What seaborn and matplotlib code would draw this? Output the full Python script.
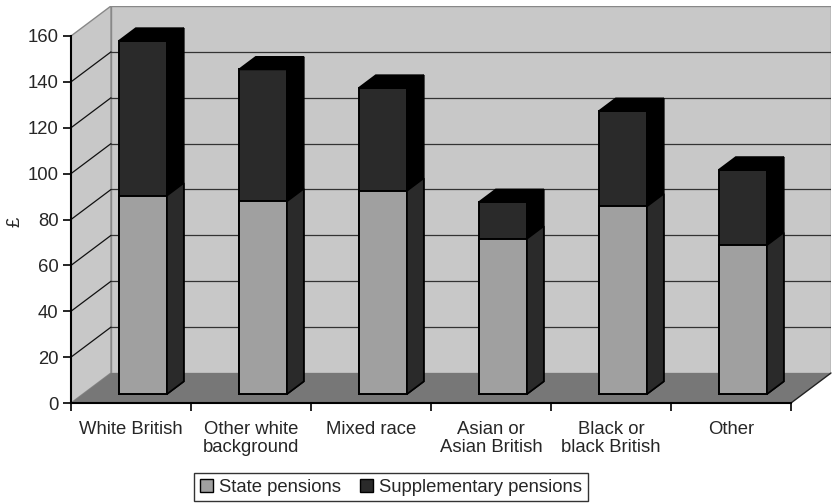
import numpy as np
import pandas as pd
import matplotlib
matplotlib.use("Agg")
import matplotlib.pyplot as plt
from matplotlib.patches import Polygon, Patch
import seaborn as sns

# ---------------------------
# Data
# ---------------------------
groups = ["White British", "Other white\nbackground", "Mixed race",
          "Asian or\nAsian British", "Black or\nblack British", "Other"]
state = [86.5, 84.0, 88.6, 67.7, 81.8, 64.9]
supplementary = [67.5, 57.5, 44.9, 16.0, 41.6, 32.9]
series_names = ["State pensions", "Supplementary pensions"]
yticks = [0, 20, 40, 60, 80, 100, 120, 140, 160]

# ---------------------------
# Style
# ---------------------------
sns.set_theme(style="white")
plt.rcParams["font.family"] = ["Liberation Sans", "DejaVu Sans"]
fs = 13.3

wall_col = "#c8c8c8"
floor_col = "#777777"
state_col = "#a0a0a0"
supp_col = "#2a2a2a"

W, H = 835, 504
fig = plt.figure(figsize=(W / 100, H / 100), dpi=100)
ax = fig.add_axes([71 / W, (H - 403) / H, (831 - 71) / W, (403 - 6) / H])

# depth of the 3d box, in data units
px_per_val = (403 - 36) / 160
DX = 40 / 120
DY = 30 / px_per_val
ymax = 160 + DY

# ---------------------------
# Walls and floor
# ---------------------------
ax.add_patch(Polygon([(-0.5 + DX, DY), (5.5 + DX, DY), (5.5 + DX, ymax), (-0.5 + DX, ymax)],
                     closed=True, fc=wall_col, ec="#888888", lw=1, zorder=0))
ax.add_patch(Polygon([(-0.5, 0), (-0.5 + DX, DY), (-0.5 + DX, ymax), (-0.5, 160)],
                     closed=True, fc=wall_col, ec="#888888", lw=1, zorder=0))
ax.add_patch(Polygon([(-0.5, 0), (5.5, 0), (5.5 + DX, DY), (-0.5 + DX, DY)],
                     closed=True, fc=floor_col, ec="none", zorder=0.5))
ax.plot([5.5, 5.5 + DX], [0, DY], color="#222222", lw=1, zorder=0.6, clip_on=False)

for v in yticks[1:-1]:
    ax.plot([-0.5 + DX, 5.5 + DX], [v + DY, v + DY], color="#333333", lw=0.9, zorder=0.4)
    ax.plot([-0.5, -0.5 + DX], [v, v + DY], color="#111111", lw=0.9, zorder=0.4)

# ---------------------------
# Bars (front faces from seaborn, then extruded)
# ---------------------------
df = pd.DataFrame({"group": groups, "state": state, "supp": supplementary})
df["total"] = df["state"] + df["supp"]

sns.barplot(data=df, x="group", y="total", color=supp_col, width=0.4,
            saturation=1, edgecolor="black", linewidth=1.4, ax=ax, zorder=2)
sns.barplot(data=df, x="group", y="state", color=state_col, width=0.4,
            saturation=1, edgecolor="black", linewidth=1.4, ax=ax, zorder=3)

f0 = 0.3   # front face position inside the depth
f1 = 0.42  # bar depth
bdx, bdy = DX * f1, DY * f1
n = len(groups)
for i, p in enumerate(ax.patches[-2 * n:]):
    p.set_x(p.get_x() + DX * f0)
    p.set_y(p.get_y() + DY * f0)
    x0, y0 = p.get_x(), p.get_y()
    x1, y1 = x0 + p.get_width(), y0 + p.get_height()
    is_total = i < n
    z = p.get_zorder()
    side = "black" if is_total else supp_col
    ax.add_patch(Polygon([(x1, y0), (x1 + bdx, y0 + bdy), (x1 + bdx, y1 + bdy), (x1, y1)],
                         closed=True, fc=side, ec="black", lw=1.2, zorder=z))
    if is_total:
        ax.add_patch(Polygon([(x0, y1), (x0 + bdx, y1 + bdy), (x1 + bdx, y1 + bdy), (x1, y1)],
                             closed=True, fc="black", ec="black", lw=1.2, zorder=z))

# ---------------------------
# Axes
# ---------------------------
ax.set_xlim(-0.5, 5.5 + DX)
ax.set_ylim(0, ymax)
ax.set_facecolor("none")
for s in ["top", "right"]:
    ax.spines[s].set_visible(False)
ax.spines["left"].set_bounds(0, 160)
ax.spines["bottom"].set_bounds(-0.5, 5.5)
for s in ["left", "bottom"]:
    ax.spines[s].set_color("black")
    ax.spines[s].set_linewidth(1.5)
    ax.spines[s].set_zorder(5)

ax.set_yticks(yticks)
ax.set_yticklabels([str(v) for v in yticks])
ax.set_xticks(np.arange(-0.5, 6, 1.0))
ax.set_xticklabels([])
ax.set_xticks(np.arange(n), minor=True)
ax.set_xticklabels(groups, minor=True, linespacing=1.1)
ax.tick_params(axis="y", which="major", direction="out", length=6, width=1.2,
               color="black", left=True, labelsize=fs, pad=3)
ax.tick_params(axis="x", which="major", direction="out", length=6, width=1.2,
               color="black", bottom=True)
ax.tick_params(axis="x", which="minor", length=0, labelsize=fs, pad=13)
ax.set_xlabel("")
ax.set_ylabel("")
ax.grid(False)
fig.text(15 / W, 1 - 222 / H, "£", rotation=90, ha="center", va="center", fontsize=fs)

handles = [Patch(fc=state_col, ec="black", lw=1), Patch(fc=supp_col, ec="black", lw=1)]
leg = fig.legend(handles, series_names, loc="center", ncol=2,
                 bbox_to_anchor=(391 / W, 1 - 487 / H), frameon=True, fancybox=False,
                 handlelength=0.7, handleheight=0.7, handletextpad=0.35,
                 columnspacing=1.0, borderpad=0.3, fontsize=fs)
leg.get_frame().set_edgecolor("black")
leg.get_frame().set_linewidth(1)

fig.savefig("out.png", dpi=100, facecolor="white")
